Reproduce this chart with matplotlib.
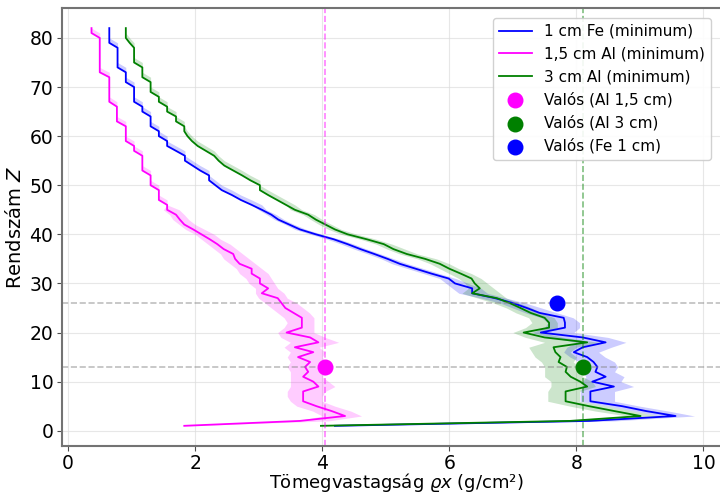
import numpy as np
import matplotlib
matplotlib.use('Agg')
import matplotlib.pyplot as plt

# Rendszam Z = 1..82
Z = list(range(1, 83))

# 1 cm Fe (minimum)
fe_x = [4.20, 8.20, 9.56, 9.10, 8.72, 8.22, 8.22, 8.22, 8.59, 8.25,
        8.46, 8.30, 8.33, 8.27, 8.17, 7.96, 8.10, 8.46, 8.10, 7.44,
        7.82, 7.82, 7.80, 7.42, 7.22, 7.00, 6.72, 6.36, 6.36, 6.09,
        5.99, 5.72, 5.47, 5.22, 5.03, 4.82, 4.60, 4.40, 4.18, 3.90,
        3.65, 3.48, 3.31, 3.20, 3.05, 2.89, 2.72, 2.58, 2.42, 2.32,
        2.22, 2.22, 2.08, 1.96, 1.84, 1.84, 1.70, 1.56, 1.56, 1.43,
        1.43, 1.30, 1.30, 1.30, 1.17, 1.17, 1.04, 1.04, 1.04, 1.04,
        0.91, 0.91, 0.91, 0.78, 0.78, 0.78, 0.78, 0.78, 0.65, 0.65,
        0.65, 0.65]
fe_lo = [4.20, 8.00, 9.30, 8.90, 8.50, 8.06, 8.06, 8.06, 8.10, 8.10,
         8.15, 8.10, 8.10, 8.05, 7.90, 7.80, 7.85, 8.00, 7.60, 7.30,
         7.50, 7.55, 7.45, 7.20, 7.00, 6.80, 6.50, 6.15, 6.05, 5.95,
         5.85, 5.60, 5.35, 5.10, 4.93, 4.72, 4.50, 4.30, 4.08, 3.82,
         3.57, 3.42, 3.25, 3.13, 3.00] + fe_x[45:]
fe_hi = [4.20, 8.60, 9.86, 9.45, 9.00, 8.60, 8.60, 8.60, 8.90, 8.70,
         8.75, 8.60, 8.65, 8.60, 8.45, 8.35, 8.55, 8.78, 8.50, 7.96,
         8.05, 8.05, 7.95, 7.70, 7.45, 7.20, 6.90, 6.60, 6.50, 6.30,
         6.10, 5.85, 5.60, 5.35, 5.13, 4.92, 4.70, 4.50, 4.28, 4.00,
         3.75, 3.56, 3.40, 3.28, 3.12,
         3.05, 2.89, 2.72, 2.58, 2.42, 2.32, 2.22, 2.22, 2.08, 1.96,
         1.84, 1.84, 1.70, 1.56, 1.56, 1.43, 1.43, 1.30, 1.30, 1.30,
         1.17, 1.17, 1.04, 1.04, 1.04, 1.04, 0.91, 0.91, 0.91, 0.78,
         0.78, 0.78, 0.78, 0.78, 0.65, 0.65, 0.65]

# 1,5 cm Al (minimum)
al15_x = [1.83, 3.65, 4.36, 4.15, 3.91, 3.70, 3.70, 3.70, 3.94, 3.86,
          3.70, 3.78, 3.73, 3.81, 3.62, 3.86, 3.57, 3.94, 3.81, 3.44,
          3.68, 3.68, 3.68, 3.55, 3.42, 3.36, 3.30, 3.05, 3.15, 3.02,
          3.02, 2.89, 2.89, 2.70, 2.63, 2.60, 2.45, 2.35, 2.23, 2.10,
          1.97, 1.83, 1.76, 1.70, 1.56, 1.56, 1.43, 1.43, 1.43, 1.30,
          1.30, 1.30, 1.17, 1.17, 1.17, 1.17, 1.04, 1.04, 0.91, 0.91,
          0.91, 0.91, 0.77, 0.77, 0.77, 0.77, 0.65, 0.65, 0.65, 0.65,
          0.65, 0.65, 0.50, 0.50, 0.50, 0.50, 0.50, 0.50, 0.50, 0.50,
          0.37, 0.37]
al15_lo = [1.83, 3.60, 4.00, 3.85, 3.60, 3.50, 3.45, 3.45, 3.50, 3.50,
           3.50, 3.50, 3.45, 3.50, 3.45, 3.50, 3.40, 3.50, 3.35, 3.30,
           3.40, 3.45, 3.40, 3.30, 3.20, 3.10, 3.00, 2.95, 2.95, 2.85,
           2.80, 2.70, 2.65, 2.55, 2.45, 2.40, 2.30, 2.20, 2.10, 2.00,
           1.85, 1.75, 1.65, 1.60, 1.50] + al15_x[45:]
al15_hi = [1.83, 4.10, 4.62, 4.45, 4.20, 4.00, 4.00, 4.05, 4.20, 4.10,
           4.00, 4.05, 4.00, 4.05, 4.00, 4.05, 3.95, 4.26, 4.05, 3.87,
           3.87, 3.87, 3.87, 3.80, 3.70, 3.60, 3.45, 3.40, 3.30, 3.25,
           3.20, 3.15, 3.05, 2.95, 2.85, 2.75, 2.65, 2.55, 2.40, 2.30,
           2.15, 2.00, 1.90, 1.83, 1.75,
           1.56, 1.56, 1.43, 1.43, 1.43, 1.30, 1.30, 1.30, 1.17, 1.17,
           1.17, 1.17, 1.04, 1.04, 0.91, 0.91, 0.91, 0.91, 0.77, 0.77,
           0.77, 0.77, 0.65, 0.65, 0.65, 0.65, 0.65, 0.65, 0.50, 0.50,
           0.50, 0.50, 0.50, 0.50, 0.50, 0.50, 0.37]

# 3 cm Al (minimum)
al3_x = [3.98, 7.90, 9.01, 8.60, 8.20, 7.83, 7.83, 7.83, 8.17, 8.06,
         7.91, 7.83, 7.85, 7.72, 7.75, 7.67, 7.64, 8.17, 7.50, 7.17,
         7.57, 7.57, 7.50, 7.28, 7.12, 6.95, 6.75, 6.36, 6.48, 6.40,
         6.35, 6.18, 6.00, 5.85, 5.62, 5.33, 5.12, 4.97, 4.70, 4.40,
         4.20, 4.05, 3.90, 3.78, 3.57, 3.43, 3.29, 3.15, 3.02, 3.02,
         2.87, 2.74, 2.60, 2.46, 2.37, 2.30, 2.17, 2.04, 1.95, 1.88,
         1.83, 1.83, 1.70, 1.70, 1.56, 1.56, 1.43, 1.43, 1.30, 1.30,
         1.30, 1.17, 1.17, 1.17, 1.04, 1.04, 1.04, 1.04, 0.97, 0.91,
         0.91, 0.91]
al3_lo = [3.98, 7.70, 8.80, 8.30, 7.90, 7.55, 7.55, 7.55, 7.60, 7.60,
          7.50, 7.50, 7.50, 7.45, 7.35, 7.30, 7.25, 7.50, 7.20, 7.00,
          7.20, 7.30, 7.25, 7.05, 6.90, 6.70, 6.45, 6.20, 6.30, 6.25,
          6.15, 6.00, 5.85, 5.70, 5.50, 5.22, 5.02, 4.85, 4.60, 4.30,
          4.10, 3.95, 3.82, 3.70, 3.50] + al3_x[45:]
al3_hi = [3.98, 8.30, 9.30, 8.90, 8.50, 8.05, 8.05, 8.05, 8.30, 8.25,
          8.10, 8.05, 8.05, 7.95, 8.00, 7.90, 8.00, 8.35, 7.80, 7.45,
          7.70, 7.70, 7.65, 7.45, 7.30, 7.10, 6.90, 6.80, 6.70, 6.60,
          6.50, 6.35, 6.15, 6.00, 5.80, 5.50, 5.30, 5.10, 4.85, 4.55,
          4.30, 4.15, 4.00, 3.88, 3.68,
          3.57, 3.43, 3.29, 3.15, 3.02, 3.02, 2.87, 2.74, 2.60, 2.46,
          2.37, 2.30, 2.17, 2.04, 1.95, 1.88, 1.83, 1.83, 1.70, 1.70,
          1.56, 1.56, 1.43, 1.43, 1.30, 1.30, 1.30, 1.17, 1.17, 1.17,
          1.04, 1.04, 1.04, 1.04, 0.97, 0.91, 0.91]

# measured points (x, Z)
real_al15 = (4.05, 13)
real_al3 = (8.10, 13)
real_fe = (7.70, 26)

fig = plt.figure(figsize=(7.2, 4.96), dpi=100)
ax = fig.add_axes([0.0856, 0.1014, 0.9206, 0.882])

ax.fill_betweenx(Z, fe_lo, fe_hi, color='blue', alpha=0.2, linewidth=0)
ax.fill_betweenx(Z, al15_lo, al15_hi, color='magenta', alpha=0.2, linewidth=0)
ax.fill_betweenx(Z, al3_lo, al3_hi, color='green', alpha=0.2, linewidth=0)

ax.plot(fe_x, Z, color='blue', lw=1.3, label='1 cm Fe (minimum)')
ax.plot(al15_x, Z, color='magenta', lw=1.3, label='1,5 cm Al (minimum)')
ax.plot(al3_x, Z, color='green', lw=1.3, label='3 cm Al (minimum)')

ax.axvline(real_al15[0], color='magenta', ls='--', lw=1.2, alpha=0.5)
ax.axvline(real_al3[0], color='green', ls='--', lw=1.2, alpha=0.5)
ax.axhline(26, color='gray', ls='--', lw=1.2, alpha=0.5)
ax.axhline(13, color='gray', ls='--', lw=1.2, alpha=0.5)

ax.scatter(*real_al15, color='magenta', s=110, zorder=5, label='Valós (Al 1,5 cm)')
ax.scatter(*real_al3, color='green', s=110, zorder=5, label='Valós (Al 3 cm)')
ax.scatter(*real_fe, color='blue', s=110, zorder=5, label='Valós (Fe 1 cm)')

ax.set_xlim(-0.1, 10.33)
ax.set_ylim(-3.05, 86.05)
ax.grid(True, color='#dddddd', alpha=0.7)
ax.set_axisbelow(True)
for s in ax.spines.values():
    s.set_color('0.45')
    s.set_linewidth(1.5)
ax.tick_params(labelsize=13.5, color='0.3', pad=2.5)
ax.set_xlabel('Tömegvastagság $\\varrho x$ (g/cm²)', fontsize=13)
ax.set_ylabel('Rendszám $Z$', fontsize=14)
ax.xaxis.set_label_coords(0.505, -0.058)
ax.yaxis.set_label_coords(-0.056, 0.5)

ax.legend(loc='upper right', bbox_to_anchor=(0.985, 0.985), fontsize=11,
          framealpha=0.9, handlelength=2.2, borderaxespad=0.2)

fig.savefig('out.png', dpi=100)
